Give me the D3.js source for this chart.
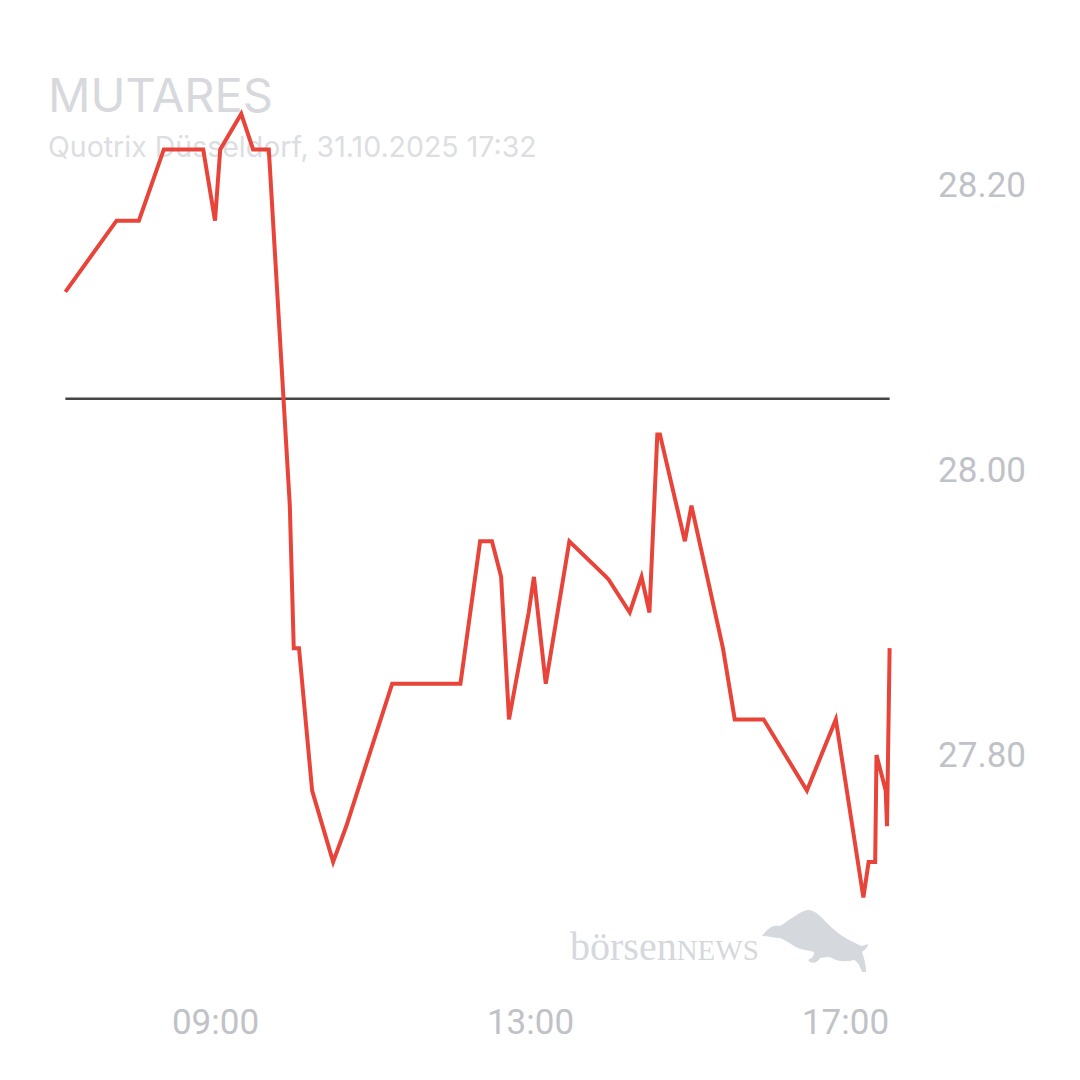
<!DOCTYPE html>
<html>
<head>
<meta charset="utf-8">
<script src="https://cdn.jsdelivr.net/npm/d3@7"></script>
<style>
  html, body { margin: 0; padding: 0; background: #ffffff; }
  svg { display: block; }
</style>
</head>
<body>
<svg id="chart" width="1080" height="1080"></svg>
<script>
// ---- data ----
const title = "MUTARES";
const subtitle = "Quotrix Düsseldorf, 31.10.2025 17:32";
const times = ["07:06","07:45","08:02","08:21","08:51","09:00","09:04","09:20","09:29","09:41",
  "09:57","10:00","10:04","10:14","10:30","10:40","11:15","12:07","12:22","12:31",
  "12:38","12:44","12:59","13:03","13:12","13:30","13:58","14:00","14:16","14:25",
  "14:31","14:37","14:39","14:58","15:03","15:27","15:36","15:58","16:31","16:53",
  "17:14","17:18","17:23","17:24","17:31","17:32","17:34"];
const prices = [28.125,28.175,28.175,28.225,28.225,28.175,28.225,28.25,28.225,28.225,
  27.975,27.875,27.875,27.775,27.725,27.75,27.85,27.85,27.95,27.95,
  27.925,27.825,27.90,27.925,27.85,27.95,27.925,27.923,27.90,27.925,
  27.90,28.025,28.025,27.95,27.975,27.875,27.825,27.825,27.775,27.825,
  27.70,27.725,27.725,27.80,27.775,27.75,27.875];
const previousClose = 28.05;
const yTicks = [27.80, 28.00, 28.20];
const xTicks = ["09:00","13:00","17:00"];

// ---- setup ----
const svg = d3.select("#chart");
const parse = d3.timeParse("%H:%M");
const data = times.map((t, i) => ({ t: parse(t), v: prices[i] }));

const x = d3.scaleTime().domain([parse("09:00"), parse("17:00")]).range([215, 845]);
const y = d3.scaleLinear().domain([27.8, 28.2]).range([755, 185]);

// title
svg.append("text").attr("x", 48).attr("y", 112)
  .attr("font-family", "Inter, Roboto, sans-serif").attr("font-size", 47)
  .attr("fill", "#d7d9dd").text(title);
svg.append("text").attr("x", 48).attr("y", 157)
  .attr("font-family", "Inter, Roboto, sans-serif").attr("font-size", 28.5)
  .attr("fill", "#dcdee2").text(subtitle);

// logo watermark
const logo = svg.append("g");
const lt = logo.append("text").attr("x", 570).attr("y", 960)
  .attr("font-family", "'Liberation Serif', 'DejaVu Serif', serif")
  .attr("fill", "#d5d8dc");
lt.append("tspan").attr("font-size", 40).text("börsen");
lt.append("tspan").attr("font-size", 29).text("NEWS");
logo.append("path")
  .attr("fill", "#d5d8dc")
  .attr("d", "M762,936 C768,928 774,924 780,926 C790,920 800,911 808,910 C816,910 822,918 830,926 C840,936 852,942 862,946 L868,944 C868,948 864,950 862,952 C864,958 866,964 866,972 L862,972 C860,966 858,962 854,960 C846,962 838,962 832,958 C828,956 824,958 820,958 C818,962 814,964 810,962 L808,960 C812,958 814,956 814,952 C808,950 800,950 794,946 C788,942 784,940 780,938 C774,938 768,936 762,936 Z");

// y axis labels
const yAxis = d3.axisRight(y).tickValues(yTicks).tickFormat(d3.format(".2f")).tickSize(0).tickPadding(0);
const gy = svg.append("g").attr("transform", "translate(1026,0)").call(yAxis);
gy.select(".domain").remove();
gy.selectAll("text").attr("text-anchor", "end")
  .attr("font-family", "Roboto, sans-serif").attr("font-size", 35)
  .attr("fill", "#bfc2c7");

// x axis labels
const xAxis = d3.axisBottom(x).tickValues(xTicks.map(parse)).tickFormat(d3.timeFormat("%H:%M")).tickSize(0).tickPadding(0);
const gx = svg.append("g").attr("transform", "translate(0,1009)").call(xAxis);
gx.select(".domain").remove();
gx.selectAll("text")
  .attr("font-family", "Roboto, sans-serif").attr("font-size", 35)
  .attr("fill", "#bfc2c7");

// previous close reference line
svg.append("line")
  .attr("x1", x(data[0].t)).attr("x2", x(data[data.length - 1].t))
  .attr("y1", y(previousClose)).attr("y2", y(previousClose))
  .attr("stroke", "#454545").attr("stroke-width", 2.5);

// price line
const line = d3.line().x(d => x(d.t)).y(d => y(d.v));
svg.append("path").datum(data)
  .attr("d", line)
  .attr("fill", "none")
  .attr("stroke", "#e8443a")
  .attr("stroke-width", 4)
  .attr("stroke-linejoin", "miter");
</script>
</body>
</html>
